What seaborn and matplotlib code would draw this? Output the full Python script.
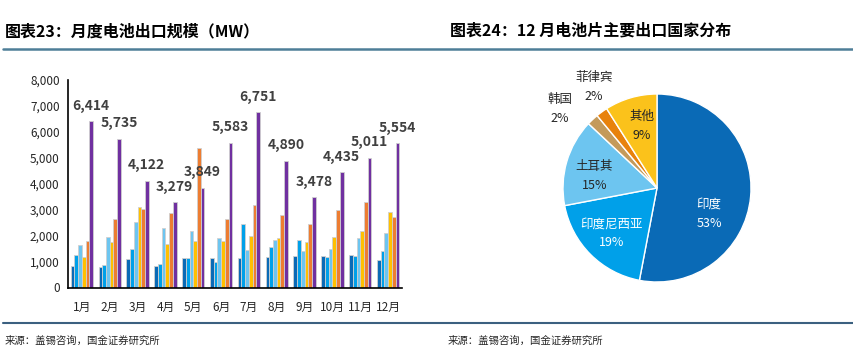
import numpy as np
import pandas as pd
import matplotlib.pyplot as plt
import seaborn as sns

# 月度电池出口规模 (MW), 6 series per month, last one labelled
months = ['1月', '2月', '3月', '4月', '5月', '6月', '7月', '8月', '9月', '10月', '11月', '12月']
series_names = ['系列1', '系列2', '系列3', '系列4', '系列5', '系列6']
s1 = [840, 778, 1110, 840, 1125, 1136, 1125, 1163, 1213, 1202, 1252, 1048]
s2 = [1263, 878, 1471, 917, 1125, 982, 2446, 1548, 1818, 1163, 1225, 1418]
s3 = [1650, 1957, 2511, 2280, 2188, 1895, 1433, 1818, 1406, 1495, 1907, 2088]
s4 = [1163, 1753, 3089, 1663, 1803, 1780, 1972, 1918, 1753, 1934, 2176, 2908]
s5 = [1803, 2627, 3012, 2858, 5362, 2627, 3166, 2793, 2446, 2974, 3305, 2704]
s6 = [6414, 5735, 4122, 3279, 3849, 5583, 6751, 4890, 3478, 4435, 5011, 5554]

# 12 月电池片主要出口国家分布 (%)
countries = ['印度', '印度尼西亚', '土耳其', '韩国', '菲律宾', '其他']
shares = [53, 19, 15, 2, 2, 9]

bar_colors = ['#0a6ab6', '#00a0e9', '#6dc5f0', '#ffc000', '#ed7d31', '#7030a0']
pie_colors = ['#0a6ab6', '#00a0e9', '#6dc5f0', '#c49a5a', '#e8820c', '#fbc21b']

sns.set_style('white')
plt.rcParams['font.family'] = ['Noto Sans CJK SC', 'DejaVu Sans']

rows = []
for name, vals in zip(series_names, [s1, s2, s3, s4, s5, s6]):
    for m, v in zip(months, vals):
        rows.append({'月份': m, '系列': name, '值': v})
df = pd.DataFrame(rows)

fig = plt.figure(figsize=(8.54, 3.54), dpi=100)

# left: grouped bars
ax = fig.add_axes([68 / 854, 1 - 287.5 / 354, 334 / 854, 207.5 / 354])
sns.barplot(data=df, x='月份', y='值', hue='系列', hue_order=series_names, order=months,
            palette=bar_colors, saturation=1, edgecolor='#d0d0d0', linewidth=0.6,
            legend=False, ax=ax)
ax.set_ylim(0, 8000)
ax.set_xlim(-0.5, 11.5)
ax.set_yticks(range(0, 8001, 1000))
ax.set_yticklabels([f'{v:,}' for v in range(0, 8001, 1000)], fontsize=8.5, color='#262626')
ax.tick_params(axis='x', length=0, labelsize=8.5, labelcolor='#262626', pad=10)
ax.tick_params(axis='y', length=0, pad=6)
ax.set_xticks([i + 0.5 for i in range(12)], minor=True)
ax.tick_params(axis='x', which='minor', direction='in', length=4, width=1, color='black')
ax.set_xlabel('')
ax.set_ylabel('')
for side in ['top', 'right']:
    ax.spines[side].set_visible(False)
for side in ['left', 'bottom']:
    ax.spines[side].set_color('black')
    ax.spines[side].set_linewidth(1.2)

last = ax.containers[-1]
for rect, v in zip(last.patches, s6):
    ax.annotate(f'{v:,}', (rect.get_x() + rect.get_width() / 2, rect.get_height()),
                xytext=(0, 11), textcoords='offset points', ha='center', va='center',
                fontsize=10, fontweight='bold', color='#404040')

# right: pie
ax2 = fig.add_axes([(657 - 94) / 854, (354 - 282) / 354, 188 / 854, 188 / 354])
wedges, _ = ax2.pie(shares, colors=pie_colors, startangle=90, counterclock=False,
                    wedgeprops=dict(edgecolor='white', linewidth=1))
ax2.set_xlim(-1, 1)
ax2.set_ylim(-1, 1)
ax2.set_aspect('equal')
# label placement: radius and angular nudge from the wedge bisector
label_r = [0.62, 0.68, 0.68, 1.33, 1.27, 0.68]
label_dang = [-21, 0, 5, 7.6, -4.2, -2.6]
label_c = ['white', 'white', '#262626', '#262626', '#262626', '#262626']
for w, name, p, r, da, c in zip(wedges, countries, shares, label_r, label_dang, label_c):
    ang = np.deg2rad((w.theta1 + w.theta2) / 2 + da)
    ax2.text(r * np.cos(ang), r * np.sin(ang), f'{name}\n{p}%', ha='center', va='center',
             fontsize=9, color=c, linespacing=1.6, clip_on=False)

# titles, rules, sources
fig.text(5 / 854, 1 - 31 / 354, '图表23：月度电池出口规模（MW）', fontsize=11.5,
         fontweight='bold', style='italic', va='center', color='black')
fig.text(450 / 854, 1 - 31 / 354, '图表24：12 月电池片主要出口国家分布', fontsize=11.5,
         fontweight='bold', style='italic', va='center', color='black')
fig.add_artist(plt.Line2D([0.003, 1], [1 - 49 / 354] * 2, color='#4e7e98', linewidth=1.8))
fig.add_artist(plt.Line2D([0.003, 1], [1 - 323 / 354] * 2, color='#3b6080', linewidth=1.5))
fig.text(5 / 854, 1 - 341 / 354, '来源：盖锡咨询，国金证券研究所', fontsize=7.5, va='center', color='#262626')
fig.text(448 / 854, 1 - 341 / 354, '来源：盖锡咨询，国金证券研究所', fontsize=7.5, va='center', color='#262626')

fig.savefig('out.png', dpi=100)
